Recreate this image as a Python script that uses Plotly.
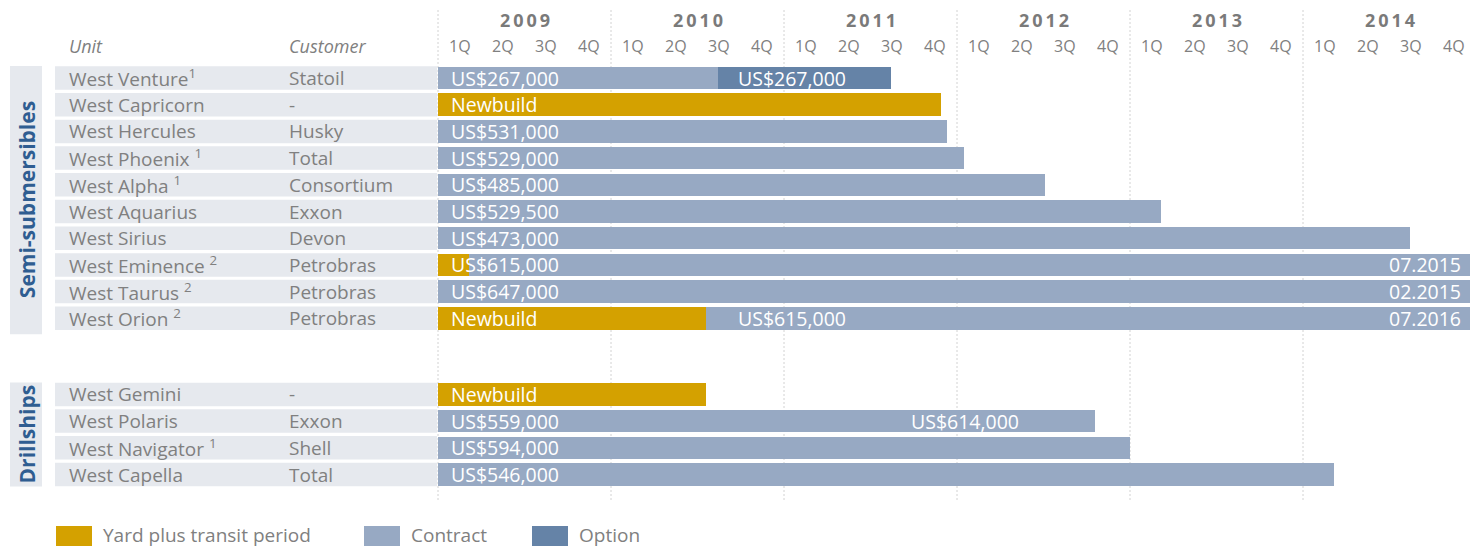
import plotly.graph_objects as go

# ---------------- data ----------------
units = ["West Venture", "West Capricorn", "West Hercules", "West Phoenix", "West Alpha",
         "West Aquarius", "West Sirius", "West Eminence", "West Taurus", "West Orion",
         "West Gemini", "West Polaris", "West Navigator", "West Capella"]
notes = ["1", "", "", "1", "1", "", "", "2", "2", "2", "", "", "1", ""]
customers = ["Statoil", "-", "Husky", "Total", "Consortium", "Exxon", "Devon",
             "Petrobras", "Petrobras", "Petrobras", "-", "Exxon", "Shell", "Total"]
groups = ["Semi-submersibles"] * 10 + ["Drillships"] * 4

start_year = 2009.0
# yard plus transit period end (fractional year), None = no yard period
yard_end = [None, 2011.91, None, None, None, None, None, 2009.18, None, 2010.55,
            2010.55, None, None, None]
yard_label = ["", "Newbuild", "", "", "", "", "", "", "", "Newbuild",
              "Newbuild", "", "", ""]
# contract segments
contract_row = [0, 2, 3, 4, 5, 6, 7, 8, 9, 11, 11, 12, 13]
contract_start = [2009.0, 2009.0, 2009.0, 2009.0, 2009.0, 2009.0, 2009.18, 2009.0, 2010.55,
                  2009.0, 2011.66, 2009.0, 2009.0]
contract_end = [2010.62, 2011.94, 2012.04, 2012.51, 2013.18, 2014.62, 2015.5, 2015.08, 2016.5,
                2011.66, 2012.80, 2013.0, 2014.18]
contract_label = ["US$267,000", "US$531,000", "US$529,000", "US$485,000", "US$529,500",
                  "US$473,000", "US$615,000", "US$647,000", "US$615,000",
                  "US$559,000", "US$614,000", "US$594,000", "US$546,000"]
contract_label_at = [2009.0, 2009.0, 2009.0, 2009.0, 2009.0, 2009.0, 2009.0, 2009.0, 2010.66,
                     2009.0, 2011.66, 2009.0, 2009.0]
# options
option_row = [0]
option_start = [2010.62]
option_end = [2011.62]
option_label = ["US$267,000"]
option_label_at = [2010.66]
# contract end labels for contracts beyond the chart
end_label_row = [7, 8, 9]
end_label = ["07.2015", "02.2015", "07.2016"]

years = [2009, 2010, 2011, 2012, 2013, 2014]
quarters = ["1Q", "2Q", "3Q", "4Q"]
legend_items = ["Yard plus transit period", "Contract", "Option"]

# ---------------- style ----------------
W, H = 1470, 549
C_YARD = "#d4a100"
C_CONTRACT = "#97a9c3"
C_OPTION = "#6583a7"
C_BAND = "#e6e9ee"
C_TEXT = "#808080"
C_GROUP = "#2f5d91"
FONT = "Open Sans"
FS_LABEL = 19
FS_BAR = 19.5

PX_PER_YEAR = 173.0
X0_PX = 438.0
ROW_PX = 26.7
ROW0_PX = 78.0
GROUP_GAP = 2.85

x_min = start_year - X0_PX / PX_PER_YEAR
x_max = start_year + (W - X0_PX) / PX_PER_YEAR

# row positions (row units)
ypos = []
for i, g in enumerate(groups):
    ypos.append(i if g == "Semi-submersibles" else i - 1 + GROUP_GAP)
y_top = -ROW0_PX / ROW_PX
y_bot = (H - ROW0_PX) / ROW_PX


def py(pix):
    return 1 - pix / H


def px(pix):
    return pix / W


BAR_W = 0.84

fig = go.Figure()

# yard bars
yi = [i for i in range(len(units)) if yard_end[i] is not None]
fig.add_trace(go.Bar(
    orientation="h",
    y=[ypos[i] for i in yi],
    base=[start_year for i in yi],
    x=[yard_end[i] - start_year for i in yi],
    marker=dict(color=C_YARD, line=dict(width=0)),
    width=BAR_W, showlegend=False, hoverinfo="skip", name="Yard plus transit period"))

# contract bars
fig.add_trace(go.Bar(
    orientation="h",
    y=[ypos[r] for r in contract_row],
    base=contract_start,
    x=[e - s for s, e in zip(contract_start, contract_end)],
    marker=dict(color=C_CONTRACT, line=dict(width=0)),
    width=BAR_W, showlegend=False, hoverinfo="skip", name="Contract"))

# option bars
fig.add_trace(go.Bar(
    orientation="h",
    y=[ypos[r] for r in option_row],
    base=option_start,
    x=[e - s for s, e in zip(option_start, option_end)],
    marker=dict(color=C_OPTION, line=dict(width=0)),
    width=BAR_W, showlegend=False, hoverinfo="skip", name="Option"))

shapes = []
ann = []

# dotted year lines
for yv in years:
    shapes.append(dict(type="line", xref="x", yref="paper", x0=yv, x1=yv,
                       y0=py(500), y1=py(10), layer="below",
                       line=dict(color="#d2d2d2", width=1, dash="2px,2px")))

# row bands in label area
for i in range(len(units)):
    shapes.append(dict(type="rect", xref="paper", yref="y", x0=px(55), x1=px(437),
                       y0=ypos[i] - 0.44, y1=ypos[i] + 0.44, fillcolor=C_BAND,
                       line=dict(width=0), layer="below"))

# group bands + labels
for g in ["Semi-submersibles", "Drillships"]:
    rows = [ypos[i] for i in range(len(units)) if groups[i] == g]
    y0 = min(rows) - 0.45
    y1 = max(rows) + (0.6 if g == "Semi-submersibles" else 0.45)
    shapes.append(dict(type="rect", xref="paper", yref="y", x0=px(10), x1=px(42),
                       y0=y0, y1=y1, fillcolor=C_BAND, line=dict(width=0), layer="below"))
    ann.append(dict(xref="paper", yref="y", x=px(27), y=(y0 + y1) / 2, text=g,
                    textangle=-90, showarrow=False, xanchor="center", yanchor="middle",
                    font=dict(family=FONT, size=21, color=C_GROUP, weight="bold")))

# unit + customer labels
for i in range(len(units)):
    t = units[i]
    if notes[i]:
        t += ("" if i == 0 else " ") + "<sup>" + notes[i] + "</sup>"
    ann.append(dict(xref="paper", yref="y", x=px(67), y=ypos[i], text=t,
                    xanchor="left", yanchor="middle", showarrow=False,
                    font=dict(family=FONT, size=FS_LABEL, color=C_TEXT)))
    ann.append(dict(xref="paper", yref="y", x=px(287), y=ypos[i], text=customers[i],
                    xanchor="left", yanchor="middle", showarrow=False,
                    font=dict(family=FONT, size=FS_LABEL, color=C_TEXT)))

# header
for hx, ht in [(67, "Unit"), (287, "Customer")]:
    ann.append(dict(xref="paper", yref="paper", x=px(hx), y=py(46), text="<i>" + ht + "</i>",
                    xanchor="left", yanchor="middle", showarrow=False,
                    font=dict(family=FONT, size=18, color=C_TEXT)))
for yv in years:
    ann.append(dict(xref="x", yref="paper", x=yv + 0.5, y=py(20),
                    text="\u2009".join(str(yv)), showarrow=False,
                    xanchor="center", yanchor="middle",
                    font=dict(family=FONT, size=18, color="#7a7a7a", weight="bold")))
    for q, ql in enumerate(quarters):
        ann.append(dict(xref="x", yref="paper", x=yv + 0.125 + 0.25 * q, y=py(46),
                        text=ql, showarrow=False, xanchor="center", yanchor="middle",
                        font=dict(family=FONT, size=16, color=C_TEXT)))

# labels inside bars
for i in range(len(units)):
    if yard_label[i]:
        ann.append(dict(xref="x", yref="y", x=start_year, y=ypos[i], text=yard_label[i],
                        xanchor="left", yanchor="middle", xshift=11, showarrow=False,
                        font=dict(family=FONT, size=FS_BAR, color="white")))
for r, la, lab in zip(contract_row, contract_label_at, contract_label):
    ann.append(dict(xref="x", yref="y", x=la, y=ypos[r], text=lab, xanchor="left",
                    yanchor="middle", xshift=11, showarrow=False,
                    font=dict(family=FONT, size=FS_BAR, color="white")))
for r, la, lab in zip(option_row, option_label_at, option_label):
    ann.append(dict(xref="x", yref="y", x=la, y=ypos[r], text=lab, xanchor="left",
                    yanchor="middle", xshift=11, showarrow=False,
                    font=dict(family=FONT, size=FS_BAR, color="white")))
for r, lab in zip(end_label_row, end_label):
    ann.append(dict(xref="paper", yref="y", x=1, y=ypos[r], text=lab, xanchor="right",
                    yanchor="middle", xshift=-7, showarrow=False,
                    font=dict(family=FONT, size=FS_BAR, color="white")))

# legend
leg_x = [56, 364, 532]
leg_c = [C_YARD, C_CONTRACT, C_OPTION]
for lx, lc, lt in zip(leg_x, leg_c, legend_items):
    shapes.append(dict(type="rect", xref="paper", yref="paper", x0=px(lx), x1=px(lx + 36),
                       y0=py(546), y1=py(526), fillcolor=lc, line=dict(width=0)))
    ann.append(dict(xref="paper", yref="paper", x=px(lx + 45), y=py(535), text=lt,
                    xanchor="left", yanchor="middle", showarrow=False,
                    font=dict(family=FONT, size=19, color=C_TEXT)))

fig.update_layout(
    width=W, height=H,
    margin=dict(l=0, r=0, t=0, b=0, pad=0),
    paper_bgcolor="white", plot_bgcolor="white",
    barmode="overlay", bargap=0,
    xaxis=dict(range=[x_min, x_max], visible=False, domain=[0, 1], fixedrange=True),
    yaxis=dict(range=[y_bot, y_top], visible=False, domain=[0, 1], fixedrange=True),
    shapes=shapes, annotations=ann, showlegend=False,
)

fig.write_html("out.html")
